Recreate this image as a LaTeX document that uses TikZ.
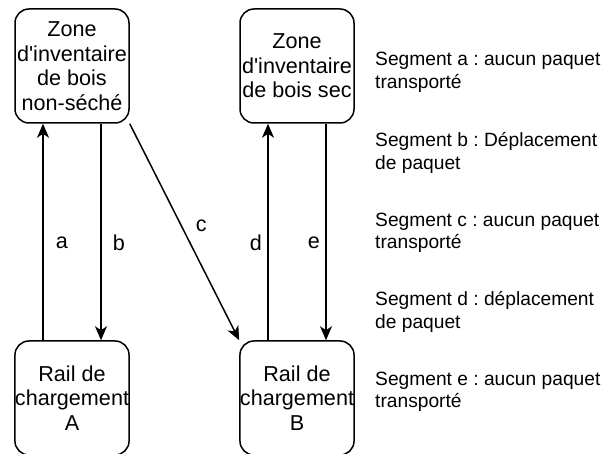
\documentclass[tikz,border=0pt]{standalone}
\usepackage{fontspec}
\setmainfont{Liberation Sans}
\usetikzlibrary{shapes,arrows.meta}
\frenchspacing

\begin{document}
\begin{tikzpicture}[x=1pt,y=-1pt]
\tikzstyle{zone} = [draw,line width=1.5pt,rounded corners=14pt,minimum width=114pt,minimum height=114pt,inner sep=0pt,align=center,font=\fontsize{21.6}{24.5}\selectfont]
\tikzstyle{seg} = [line width=1.5pt,-{Stealth[length=14pt,width=12pt,inset=4pt]}]
\tikzstyle{lbl} = [inner sep=0pt,font=\fontsize{21.6}{24.5}\selectfont]
\tikzstyle{legend} = [anchor=west,inner sep=0pt,align=left,font=\fontsize{19.2}{22.5}\selectfont]
\def\off{29}
\def\q{\textquotesingle}
\useasboundingbox (0,0) rectangle (611,454);
\node[zone] (nonseche) at (72,66)  {Zone\\d\q inventaire\\de bois\\non-séché};
\node[zone] (sec)      at (297,66) {Zone\\d\q inventaire\\de bois sec};
\node[zone] (railA)    at (72,398) {Rail de\\chargement\\A};
\node[zone] (railB)    at (297,398) {Rail de\\chargement\\B};
% segments
\draw[seg] ([xshift=-\off pt]railA.north) -- ([xshift=-\off pt]nonseche.south)
   node[lbl,pos=0.45,xshift=19pt] {a};
\draw[seg] ([xshift=\off pt]nonseche.south) -- ([xshift=\off pt]railA.north)
   node[lbl,pos=0.55,xshift=18pt] {b};
\draw[seg] (nonseche.south east) -- (railB.north west)
   node[lbl,pos=0.47,xshift=20pt] {c};
\draw[seg] ([xshift=-\off pt]railB.north) -- ([xshift=-\off pt]sec.south)
   node[lbl,pos=0.45,xshift=-12pt] {d};
\draw[seg] ([xshift=\off pt]sec.south) -- ([xshift=\off pt]railB.north)
   node[lbl,pos=0.55,xshift=-12pt] {e};
% legend
\node[legend] (sega) at (375,72.5) {Segment a : aucun paquet\\transporté};
\node[legend] (segb) at (375,153)  {Segment b : Déplacement\\de paquet};
\node[legend] (segc) at (375,233)  {Segment c : aucun paquet\\transporté};
\node[legend] (segd) at (375,312)  {Segment d : déplacement\\de paquet};
\node[legend] (sege) at (375,392)  {Segment e : aucun paquet\\transporté};
\end{tikzpicture}
\end{document}
